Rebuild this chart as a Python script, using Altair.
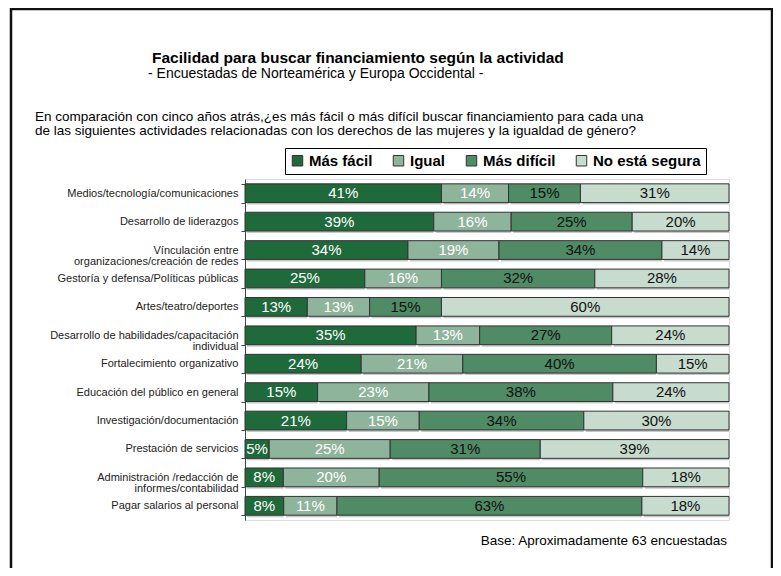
import altair as alt
import pandas as pd

# ---- data ----
categories = [
    "Medios/tecnología/comunicaciones",
    "Desarrollo de liderazgos",
    "Vínculación entre|organizaciones/creación de redes",
    "Gestoría y defensa/Políticas públicas",
    "Artes/teatro/deportes",
    "Desarrollo de habilidades/capacitación|individual",
    "Fortalecimiento organizativo",
    "Educación del público en general",
    "Investigación/documentación",
    "Prestación de servicios",
    "Administración /redacción de|informes/contabilidad",
    "Pagar salarios al personal",
]
responses = ["Más fácil", "Igual", "Más difícil", "No está segura"]
mas_facil = [41, 39, 34, 25, 13, 35, 24, 15, 21, 5, 8, 8]
igual = [14, 16, 19, 16, 13, 13, 21, 23, 15, 25, 20, 11]
mas_dificil = [15, 25, 34, 32, 15, 27, 40, 38, 34, 31, 55, 63]
no_segura = [31, 20, 14, 28, 60, 24, 15, 24, 30, 39, 18, 18]

title_text = "Facilidad para buscar financiamiento según la actividad"
subtitle_text = "- Encuestadas de Norteamérica y Europa Occidental -"
question_lines = [
    "En comparación con cinco años atrás,¿es más fácil o más difícil buscar financiamiento para cada una",
    "de las siguientes actividades relacionadas con los derechos de las mujeres y la igualdad de género?",
]
footnote_text = "Base: Aproximadamente 63 encuestadas"

colors = ["#1f6a3b", "#8fb49c", "#4f8b65", "#c7dccf"]

rows = []
for series_idx, (resp, vals) in enumerate(zip(responses, [mas_facil, igual, mas_dificil, no_segura])):
    for cat, v in zip(categories, vals):
        rows.append({"Actividad": cat, "Respuesta": resp, "Valor": v, "orden": series_idx})
df = pd.DataFrame(rows)

FONT = "Liberation Sans"

base = alt.Chart(df).transform_stack(
    stack="Valor", as_=["x0", "x1"], groupby=["Actividad"],
    sort=[alt.SortField("orden", "ascending")], offset="normalize"
).transform_calculate(
    mid="(datum.x0 + datum.x1) / 2",
    lab="datum.Valor + '%'",
    tc="datum.orden < 2 ? 'white' : '#111111'",
)

yenc = alt.Y(
    "Actividad:N", sort=categories, title=None,
    scale=alt.Scale(paddingInner=0.34, paddingOuter=0.17),
    axis=alt.Axis(
        labelExpr="split(datum.label, '|')", labelFontSize=11, labelColor="#222222",
        labelLineHeight=11, labelLimit=0, labelPadding=3, tickSize=4, tickBand="extent",
        domainColor="#444444", tickColor="#444444", labelFont=FONT,
    ),
)
xscale = alt.Scale(domain=[0, 1], nice=False, zero=True)

shadow = base.mark_bar(color="#c8c8c8", xOffset=2, yOffset=2).encode(
    x=alt.X("x0:Q", scale=xscale, axis=None), x2="x1:Q", y=yenc,
)

bars = base.mark_bar(stroke="#333333", strokeWidth=1).encode(
    x=alt.X("x0:Q", scale=xscale, axis=None),
    x2="x1:Q",
    y=yenc,
    color=alt.Color(
        "Respuesta:N",
        scale=alt.Scale(domain=responses, range=colors),
        legend=alt.Legend(
            orient="none", legendX=40, legendY=-31, direction="horizontal", columns=4,
            title=None, labelFont=FONT, labelFontSize=15, labelFontWeight="bold",
            labelColor="#000000", symbolType="square", symbolSize=110,
            symbolStrokeColor="#333333", symbolStrokeWidth=1, symbolOpacity=1,
            labelOffset=4, columnPadding=18, padding=5, strokeColor="#000000",
            fillColor="white",
        ),
    ),
)

labels = base.mark_text(font=FONT, fontSize=15, baseline="middle", align="center").encode(
    x=alt.X("mid:Q", scale=xscale, axis=None),
    y=yenc,
    text="lab:N",
    color=alt.Color("tc:N", scale=None),
)

one = pd.DataFrame({"k": [0]})

def txt(s, x, y, size, weight="normal", align="left"):
    return alt.Chart(one).mark_text(
        font=FONT, fontSize=size, fontWeight=weight, align=align, baseline="middle", color="#000000"
    ).encode(x=alt.value(x), y=alt.value(y), text=alt.value(s))

title = txt(title_text, -93, -121, 15.5, "bold")
subtitle = txt(subtitle_text, -97, -105, 14)
q1 = txt(question_lines[0], -210, -62, 13.5)
q2 = txt(question_lines[1], -210, -48, 13.5)
foot = txt(footnote_text, 482, 362, 13.5, align="right")

frame = alt.Chart(one).mark_rect(filled=False, stroke="#111111", strokeWidth=2.5).encode(
    x=alt.value(-234), x2=alt.value(527), y=alt.value(-170), y2=alt.value(430)
)

chart = alt.layer(shadow, bars, labels, title, subtitle, q1, q2, foot, frame).properties(
    width=484, height=341,
    autosize=alt.AutoSizeParams(type="none"),
    padding={"left": 237, "top": 171, "right": 44, "bottom": 48},
).configure_view(stroke=None).configure(font=FONT)

chart.save("out.html", embed_options={"renderer": "svg", "actions": False})
